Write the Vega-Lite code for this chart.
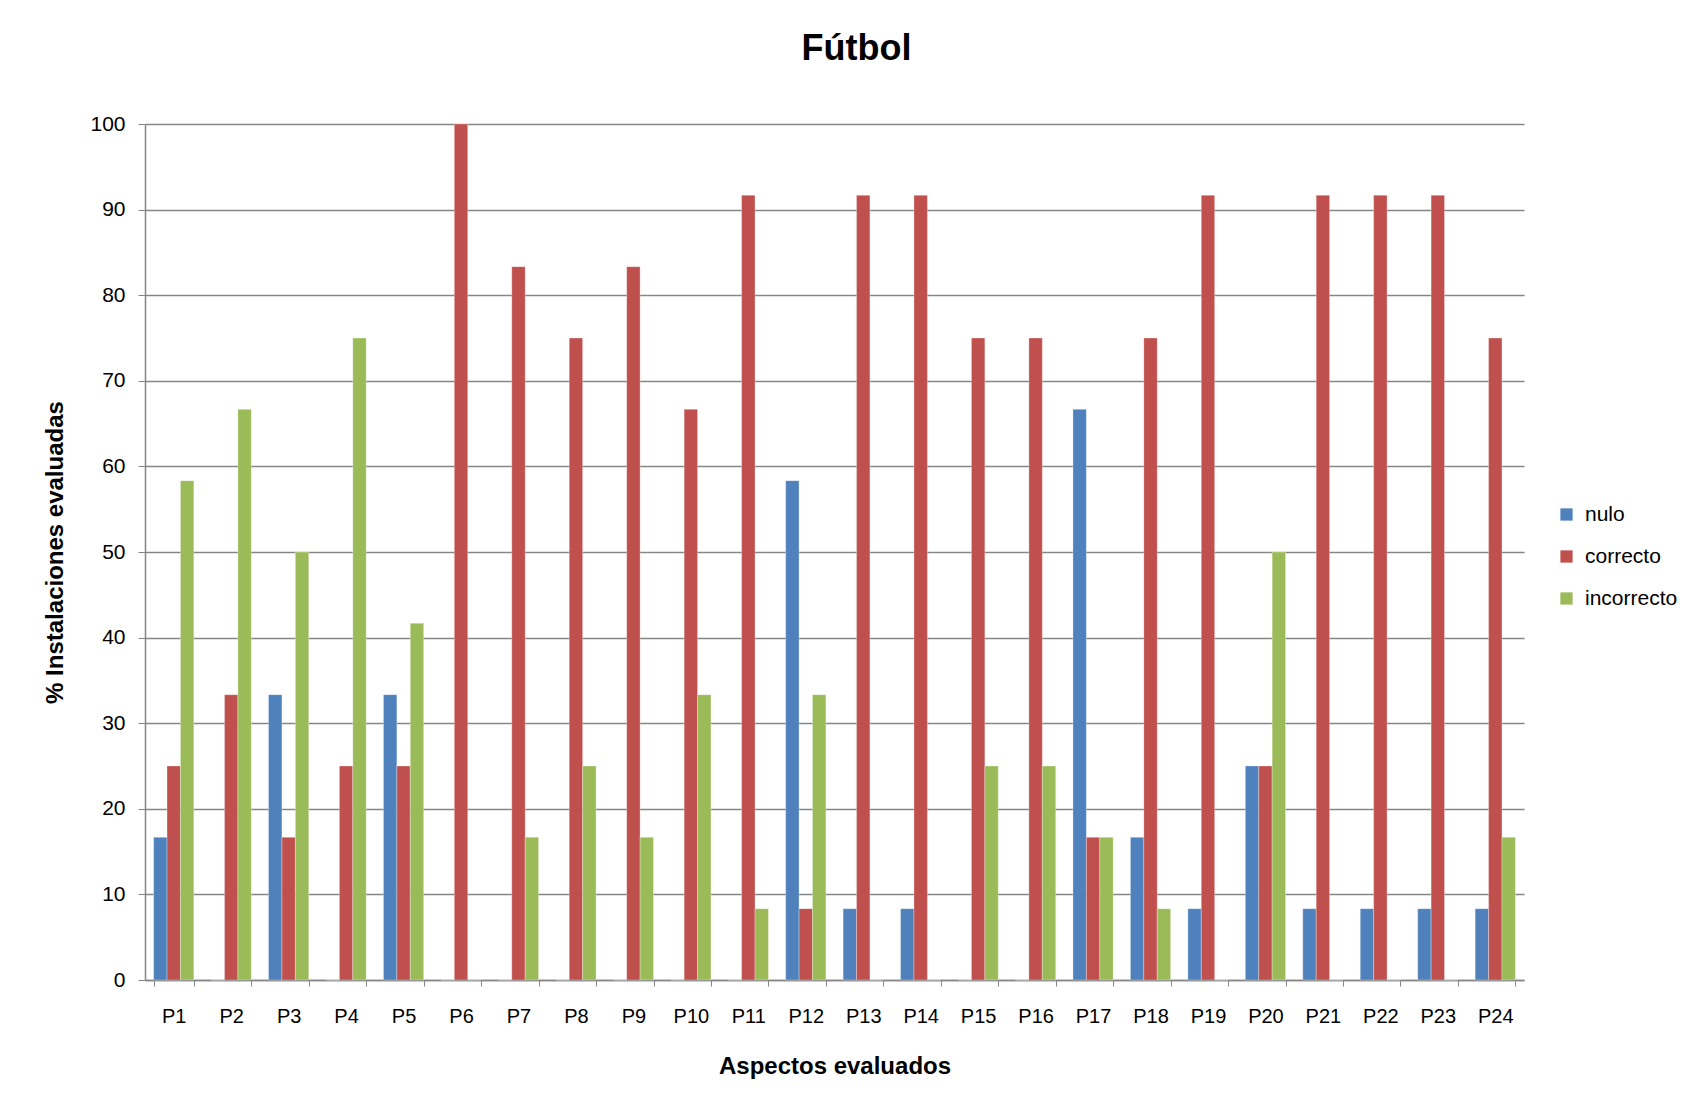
{
  "$schema": "https://vega.github.io/schema/vega-lite/v6.json",
  "autosize": {"type": "none"},
  "padding": {"left": 145, "top": 124, "right": 159, "bottom": 124},
  "width": 1379,
  "height": 856,
  "background": "white",
  "title": {
    "text": "Fútbol",
    "fontSize": 36,
    "fontWeight": "bold",
    "font": "Liberation Sans",
    "color": "#000000",
    "anchor": "middle",
    "dx": 22,
    "offset": 45
  },
  "data": {
    "values": [
      {"p": "P1", "serie": "nulo", "v": 16.67}, {"p": "P1", "serie": "correcto", "v": 25}, {"p": "P1", "serie": "incorrecto", "v": 58.33},
      {"p": "P2", "serie": "nulo", "v": 0}, {"p": "P2", "serie": "correcto", "v": 33.33}, {"p": "P2", "serie": "incorrecto", "v": 66.67},
      {"p": "P3", "serie": "nulo", "v": 33.33}, {"p": "P3", "serie": "correcto", "v": 16.67}, {"p": "P3", "serie": "incorrecto", "v": 50},
      {"p": "P4", "serie": "nulo", "v": 0}, {"p": "P4", "serie": "correcto", "v": 25}, {"p": "P4", "serie": "incorrecto", "v": 75},
      {"p": "P5", "serie": "nulo", "v": 33.33}, {"p": "P5", "serie": "correcto", "v": 25}, {"p": "P5", "serie": "incorrecto", "v": 41.67},
      {"p": "P6", "serie": "nulo", "v": 0}, {"p": "P6", "serie": "correcto", "v": 100}, {"p": "P6", "serie": "incorrecto", "v": 0},
      {"p": "P7", "serie": "nulo", "v": 0}, {"p": "P7", "serie": "correcto", "v": 83.33}, {"p": "P7", "serie": "incorrecto", "v": 16.67},
      {"p": "P8", "serie": "nulo", "v": 0}, {"p": "P8", "serie": "correcto", "v": 75}, {"p": "P8", "serie": "incorrecto", "v": 25},
      {"p": "P9", "serie": "nulo", "v": 0}, {"p": "P9", "serie": "correcto", "v": 83.33}, {"p": "P9", "serie": "incorrecto", "v": 16.67},
      {"p": "P10", "serie": "nulo", "v": 0}, {"p": "P10", "serie": "correcto", "v": 66.67}, {"p": "P10", "serie": "incorrecto", "v": 33.33},
      {"p": "P11", "serie": "nulo", "v": 0}, {"p": "P11", "serie": "correcto", "v": 91.67}, {"p": "P11", "serie": "incorrecto", "v": 8.33},
      {"p": "P12", "serie": "nulo", "v": 58.33}, {"p": "P12", "serie": "correcto", "v": 8.33}, {"p": "P12", "serie": "incorrecto", "v": 33.33},
      {"p": "P13", "serie": "nulo", "v": 8.33}, {"p": "P13", "serie": "correcto", "v": 91.67}, {"p": "P13", "serie": "incorrecto", "v": 0},
      {"p": "P14", "serie": "nulo", "v": 8.33}, {"p": "P14", "serie": "correcto", "v": 91.67}, {"p": "P14", "serie": "incorrecto", "v": 0},
      {"p": "P15", "serie": "nulo", "v": 0}, {"p": "P15", "serie": "correcto", "v": 75}, {"p": "P15", "serie": "incorrecto", "v": 25},
      {"p": "P16", "serie": "nulo", "v": 0}, {"p": "P16", "serie": "correcto", "v": 75}, {"p": "P16", "serie": "incorrecto", "v": 25},
      {"p": "P17", "serie": "nulo", "v": 66.67}, {"p": "P17", "serie": "correcto", "v": 16.67}, {"p": "P17", "serie": "incorrecto", "v": 16.67},
      {"p": "P18", "serie": "nulo", "v": 16.67}, {"p": "P18", "serie": "correcto", "v": 75}, {"p": "P18", "serie": "incorrecto", "v": 8.33},
      {"p": "P19", "serie": "nulo", "v": 8.33}, {"p": "P19", "serie": "correcto", "v": 91.67}, {"p": "P19", "serie": "incorrecto", "v": 0},
      {"p": "P20", "serie": "nulo", "v": 25}, {"p": "P20", "serie": "correcto", "v": 25}, {"p": "P20", "serie": "incorrecto", "v": 50},
      {"p": "P21", "serie": "nulo", "v": 8.33}, {"p": "P21", "serie": "correcto", "v": 91.67}, {"p": "P21", "serie": "incorrecto", "v": 0},
      {"p": "P22", "serie": "nulo", "v": 8.33}, {"p": "P22", "serie": "correcto", "v": 91.67}, {"p": "P22", "serie": "incorrecto", "v": 0},
      {"p": "P23", "serie": "nulo", "v": 8.33}, {"p": "P23", "serie": "correcto", "v": 91.67}, {"p": "P23", "serie": "incorrecto", "v": 0},
      {"p": "P24", "serie": "nulo", "v": 8.33}, {"p": "P24", "serie": "correcto", "v": 75}, {"p": "P24", "serie": "incorrecto", "v": 16.67}
    ]
  },
  "mark": {"type": "bar", "stroke": "#ffffff", "strokeWidth": 0.5, "strokeOpacity": 0.6},
  "encoding": {
    "x": {
      "field": "p",
      "type": "nominal",
      "sort": null,
      "scale": {"paddingInner": 0.3, "paddingOuter": 0.15},
      "axis": {
        "title": "Aspectos evaluados",
        "titleFont": "Liberation Sans",
        "titleFontSize": 24,
        "titleFontWeight": "bold",
        "titleColor": "#000000",
        "titlePadding": 28,
        "labelFont": "Liberation Sans",
        "labelFontSize": 20,
        "labelColor": "#000000",
        "labelAngle": 0,
        "labelPadding": 20,
        "tickBand": "extent",
        "tickColor": "#868686",
        "tickSize": 6,
        "domainColor": "#868686",
        "domainWidth": 1.5,
        "grid": false
      }
    },
    "xOffset": {
      "field": "serie",
      "type": "nominal",
      "sort": ["nulo", "correcto", "incorrecto"],
      "scale": {"paddingInner": 0, "paddingOuter": 0}
    },
    "y": {
      "field": "v",
      "type": "quantitative",
      "scale": {"domain": [0, 100], "nice": false},
      "axis": {
        "title": "% Instalaciones evaluadas",
        "titleFont": "Liberation Sans",
        "titleFontSize": 24,
        "titleFontWeight": "bold",
        "titleColor": "#000000",
        "titlePadding": 22,
        "labelFont": "Liberation Sans",
        "labelFontSize": 21,
        "labelColor": "#000000",
        "labelPadding": 13,
        "values": [0, 10, 20, 30, 40, 50, 60, 70, 80, 90, 100],
        "tickColor": "#868686",
        "tickSize": 7,
        "domainColor": "#868686",
        "domainWidth": 1.5,
        "grid": true,
        "gridColor": "#868686",
        "gridWidth": 1.3
      }
    },
    "color": {
      "field": "serie",
      "type": "nominal",
      "sort": ["nulo", "correcto", "incorrecto"],
      "scale": {"domain": ["nulo", "correcto", "incorrecto"], "range": ["#4F81BD", "#C0504D", "#9BBB59"]},
      "legend": {
        "title": null,
        "orient": "none",
        "legendX": 1411,
        "legendY": 380,
        "symbolType": "square",
        "symbolSize": 150,
        "symbolStrokeWidth": 0,
        "labelFont": "Liberation Sans",
        "labelFontSize": 21,
        "labelColor": "#000000",
        "labelOffset": 8,
        "rowPadding": 20
      }
    }
  },
  "config": {
    "view": {"stroke": null},
    "font": "Liberation Sans"
  }
}
